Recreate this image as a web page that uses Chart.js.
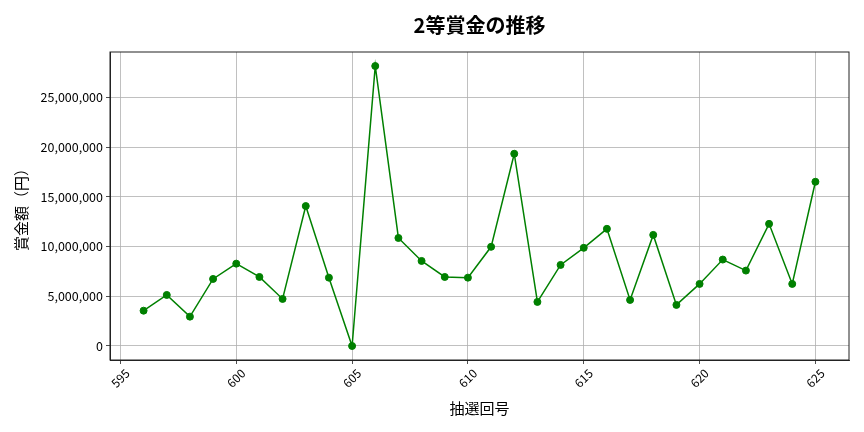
<!DOCTYPE html>
<html>
<head>
<meta charset="utf-8">
<script src="https://cdn.jsdelivr.net/npm/chart.js@4/dist/chart.umd.min.js"></script>
<style>
  html, body { margin: 0; padding: 0; background: #fff; }
</style>
</head>
<body>
<canvas id="prizeChart" width="864" height="432"></canvas>
<script>
// 抽選回号 and 2等 prize amounts (円)
const drawNumbers = [596, 597, 598, 599, 600, 601, 602, 603, 604, 605,
                     606, 607, 608, 609, 610, 611, 612, 613, 614, 615,
                     616, 617, 618, 619, 620, 621, 622, 623, 624, 625];
const prizeAmounts = [3550000, 5130000, 2950000, 6740000, 8280000, 6940000, 4730000, 14070000, 6870000, 0,
                      28150000, 10860000, 8550000, 6940000, 6870000, 9970000, 19330000, 4430000, 8150000, 9870000,
                      11780000, 4630000, 11170000, 4130000, 6240000, 8690000, 7580000, 12280000, 6240000, 16510000];
const xTickValues = [595, 600, 605, 610, 615, 620, 625];
const yTickValues = [0, 5000000, 10000000, 15000000, 20000000, 25000000];

Chart.defaults.font.family = "'Noto Sans CJK JP', 'Noto Sans', sans-serif";
Chart.defaults.color = '#000';

// matplotlib-like frame on all four sides
const framePlugin = {
  id: 'frame',
  afterDraw(chart) {
    const { ctx, chartArea: a } = chart;
    ctx.save();
    ctx.strokeStyle = '#222';
    ctx.lineWidth = 1;
    ctx.strokeRect(a.left, a.top, a.right - a.left, a.bottom - a.top);
    ctx.restore();
  }
};

const ctx = document.getElementById('prizeChart').getContext('2d');

new Chart(ctx, {
  type: 'line',
  data: {
    datasets: [
      {
        label: '2等賞金',
        data: drawNumbers.map((n, i) => ({ x: n, y: prizeAmounts[i] })),
        borderColor: '#008000',
        backgroundColor: '#008000',
        borderWidth: 1.5,
        pointRadius: 3.5,
        pointBorderWidth: 1,
        tension: 0,
      },
    ],
  },
  options: {
    responsive: false,
    animation: false,
    devicePixelRatio: 1,
    layout: { padding: { top: 0, right: 15, bottom: 0, left: 0 } },
    plugins: {
      legend: { display: false },
      tooltip: { enabled: false },
      title: {
        display: true,
        text: '2等賞金の推移',
        fullSize: false,
        font: { size: 20, weight: 'bold' },
        padding: { top: 13, bottom: 15 },
        color: '#000',
      },
    },
    scales: {
      x: {
        type: 'linear',
        min: 594.55,
        max: 626.45,
        afterBuildTicks: s => { s.ticks = xTickValues.map(v => ({ value: v })); },
        afterFit: s => { s.height = 72; },
        ticks: {
          minRotation: 45,
          maxRotation: 45,
          labelOffset: 7,
          padding: 2,
          font: { size: 12 },
          callback: v => String(v),
        },
        grid: { color: '#b0b0b0', lineWidth: 0.8, tickLength: 4, tickColor: '#222' },
        border: { color: '#222', width: 1 },
        title: {
          display: true,
          text: '抽選回号',
          font: { size: 15 },
          padding: { top: 0, bottom: 15 },
        },
      },
      y: {
        type: 'linear',
        min: -1410000,
        max: 29560000,
        afterBuildTicks: s => { s.ticks = yTickValues.map(v => ({ value: v })); },
        afterFit: s => { s.width = 110; },
        ticks: {
          padding: 3,
          font: { size: 12.5 },
          callback: v => v.toLocaleString('en-US'),
        },
        grid: { color: '#b0b0b0', lineWidth: 0.8, tickLength: 4, tickColor: '#222' },
        border: { color: '#222', width: 1 },
        title: {
          display: true,
          text: '賞金額（円）',
          font: { size: 15 },
          padding: { top: 12, bottom: 0 },
        },
      },
    },
  },
  plugins: [framePlugin],
});
</script>
</body>
</html>
